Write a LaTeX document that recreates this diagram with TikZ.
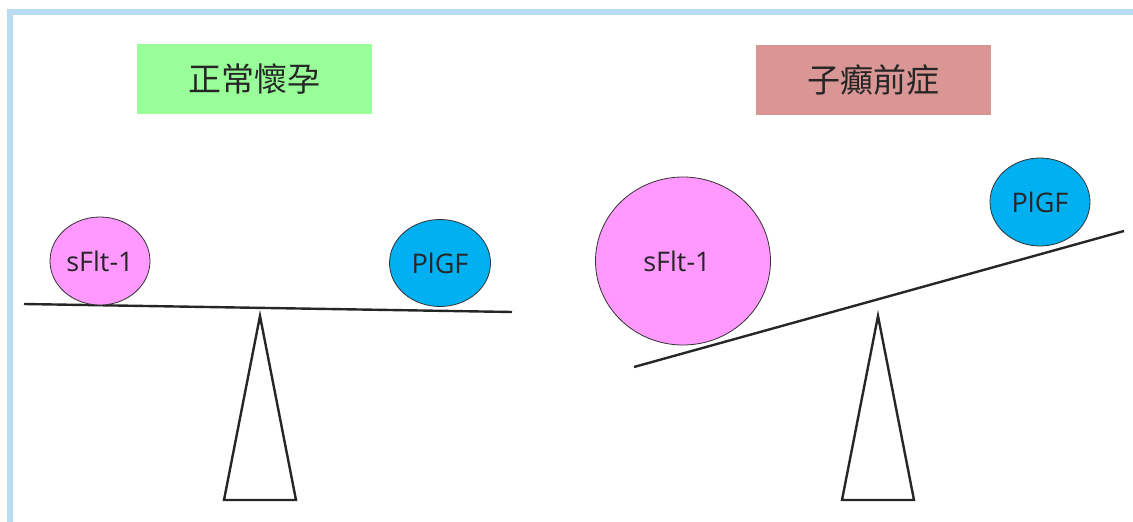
\documentclass[tikz,border=0pt]{standalone}
\usepackage{fontspec}
\setmainfont{Open Sans}
\newfontfamily\cjk{Noto Sans CJK TC}
\definecolor{frameblue}{RGB}{185,220,242}
\definecolor{normalgreen}{RGB}{153,255,153}
\definecolor{preeclpink}{RGB}{217,150,148}
\definecolor{sfltpink}{RGB}{255,153,255}
\definecolor{plgfblue}{RGB}{0,176,240}
\tikzset{
  title/.style={inner sep=0pt, minimum width=235pt, minimum height=70pt, font=\cjk\fontsize{33}{36}\selectfont, text=black!85},
  ball/.style={draw=black!80, line width=0.8pt, ellipse, inner sep=0pt, font=\fontsize{27}{30}\selectfont, text=black!85},
  balltext/.style={inner sep=0pt, font=\fontsize{27}{30}\selectfont, text=black!85},
  beam/.style={line width=2.4pt, black!85},
  pivot/.style={line width=2.4pt, black!85, fill=white, line join=miter},
}
\usetikzlibrary{shapes.geometric}
\begin{document}
\begin{tikzpicture}[x=1pt, y=-1pt]
  \useasboundingbox (0,0) rectangle (1133,522);
  % frame edges
  \fill[frameblue] (7,9) rectangle (1133,15);
  \fill[frameblue] (7,9) rectangle (13,522);

  % headings
  \node[title, fill=normalgreen] (normal) at (254.5,79) {正常懷孕};
  \node[title, fill=preeclpink] (preecl) at (873,80) {子癲前症};

  % balanced scale
  \coordinate (lbA) at (24,304);
  \coordinate (lbB) at (512,312);
  \draw[beam] (lbA) -- (lbB);
  \coordinate (lp1) at (260,316);
  \coordinate (lp2) at (224,500);
  \coordinate (lp3) at (296,500);
  \draw[pivot] (lp1) -- (lp2) -- (lp3) -- cycle;
  \node[ball, fill=sfltpink, minimum width=100pt, minimum height=88pt] (lsflt) at (100,261) {};
  \node[balltext] (lsfltlab) at (lsflt) {sFlt-1};
  \node[ball, fill=plgfblue, minimum width=101pt, minimum height=87pt] (lplgf) at (440,263) {};
  \node[balltext] (lplgflab) at (lplgf) {PlGF};

  % tipped scale
  \coordinate (rbA) at (634,367);
  \coordinate (rbB) at (1124,231);
  \draw[beam] (rbA) -- (rbB);
  \coordinate (rp1) at (878,316);
  \coordinate (rp2) at (842,500);
  \coordinate (rp3) at (914,500);
  \draw[pivot] (rp1) -- (rp2) -- (rp3) -- cycle;
  \node[ball, fill=sfltpink, minimum width=175pt, minimum height=168pt] (rsflt) at (683,261) {};
  \node[balltext] (rsfltlab) at ([xshift=-6pt]rsflt.center) {sFlt-1};
  \node[ball, fill=plgfblue, minimum width=100pt, minimum height=88pt] (rplgf) at (1040,202) {};
  \node[balltext] (rplgflab) at (rplgf) {PlGF};
\end{tikzpicture}
\end{document}
